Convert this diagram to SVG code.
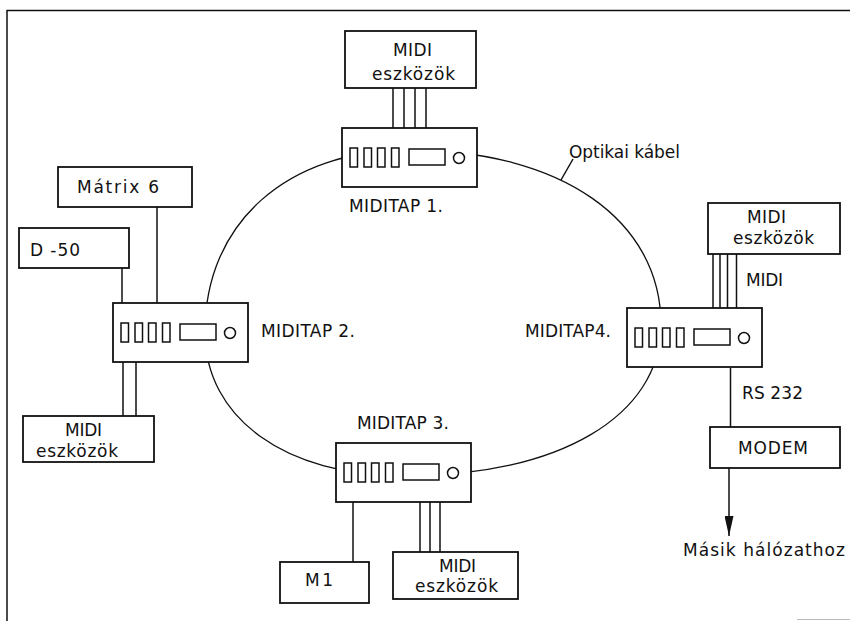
<svg xmlns="http://www.w3.org/2000/svg" xmlns:xlink="http://www.w3.org/1999/xlink" width="850" height="621" viewBox="0 0 850 621">
<style>
  .box { fill: #fff; stroke: #111; stroke-width: 1.8; }
  .ln { fill: none; stroke: #111; stroke-width: 1.5; }
  .ring { fill: none; stroke: #111; stroke-width: 1.3; }
  .part { fill: #fff; stroke: #111; stroke-width: 1.5; }
  text { font-family: "DejaVu Sans", "Liberation Sans", Arial, sans-serif; font-size: 17px; fill: #111; }
</style>
<defs>
  <g id="tap">
    <rect class="box" x="0" y="0" width="135" height="59"/>
    <rect class="part" x="8" y="20" width="7.5" height="19"/>
    <rect class="part" x="22" y="20" width="7.5" height="19"/>
    <rect class="part" x="35.5" y="20" width="7.5" height="19"/>
    <rect class="part" x="49.5" y="20" width="7.5" height="19"/>
    <rect class="part" x="67" y="21" width="36" height="16"/>
    <circle class="part" cx="117" cy="30" r="5.5"/>
  </g>
  <marker id="arr" viewBox="0 0 20 9" refX="20" refY="4.5" markerWidth="20" markerHeight="9" markerUnits="userSpaceOnUse" orient="auto">
    <path d="M0,0 L20,4.5 L0,9 Z" fill="#111"/>
  </marker>
</defs>
<rect x="0" y="0" width="850" height="621" fill="#fff"/>
<g id="frame">
  <path class="ln" d="M7,621 V10.5 H850"/>
  <line x1="797" y1="619.5" x2="850" y2="619.5" stroke="#bbb" stroke-width="1"/>
</g>
<g id="connectors">
  <path class="ring" d="M409,150 C287,150 205,223 205,332 C205,418 285,476 405,476 C559,476 661,416 661,325 C661,220 561,150 409,150 Z"/>
  <line class="ln" x1="561" y1="180" x2="573" y2="159"/>
  <path class="ln" d="M393,88 V128 M404,88 V128 M415,88 V128 M426,88 V128"/>
  <line class="ln" x1="157" y1="207" x2="157" y2="303"/>
  <line class="ln" x1="122" y1="268" x2="122" y2="303"/>
  <path class="ln" d="M123,362 V416 M136,362 V416"/>
  <line class="ln" x1="353" y1="502" x2="353" y2="562"/>
  <path class="ln" d="M420,502 V552 M430,502 V552 M440,502 V552"/>
  <path class="ln" d="M713,254 V308 M720,254 V308 M727.5,254 V308 M736.5,254 V308"/>
  <line class="ln" x1="730.5" y1="368" x2="730.5" y2="427"/>
  <line class="ln" x1="729" y1="468" x2="729" y2="536" marker-end="url(#arr)"/>
</g>
<g id="miditap1">
  <use xlink:href="#tap" x="342" y="128"/>
  <text x="349" y="212" textLength="94" lengthAdjust="spacing">MIDITAP 1.</text>
</g>
<g id="miditap2">
  <use xlink:href="#tap" x="113" y="303"/>
  <text x="261" y="337" textLength="94" lengthAdjust="spacing">MIDITAP 2.</text>
</g>
<g id="miditap3">
  <use xlink:href="#tap" x="336" y="443"/>
  <text x="357" y="429" textLength="92" lengthAdjust="spacing">MIDITAP 3.</text>
</g>
<g id="miditap4">
  <use xlink:href="#tap" x="627" y="308"/>
  <text x="525" y="337" textLength="86" lengthAdjust="spacing">MIDITAP4.</text>
</g>
<g id="midi-top">
  <rect class="box" x="345" y="31" width="131" height="57"/>
  <text x="393" y="56" textLength="39" lengthAdjust="spacing">MIDI</text>
  <text x="372" y="80" textLength="83" lengthAdjust="spacing">eszközök</text>
</g>
<g id="matrix6">
  <rect class="box" x="58" y="167" width="134" height="40"/>
  <text x="77" y="193" textLength="82" lengthAdjust="spacing">Mátrix 6</text>
</g>
<g id="d50">
  <rect class="box" x="19" y="228" width="110" height="40"/>
  <text x="30" y="256" textLength="50" lengthAdjust="spacing">D -50</text>
</g>
<g id="midi-left">
  <rect class="box" x="23" y="416" width="131" height="46"/>
  <text x="65" y="436" textLength="37" lengthAdjust="spacing">MIDI</text>
  <text x="36" y="457" textLength="82" lengthAdjust="spacing">eszközök</text>
</g>
<g id="m1">
  <rect class="box" x="280" y="562" width="89" height="41"/>
  <text x="305" y="586" textLength="28" lengthAdjust="spacing">M1</text>
</g>
<g id="midi-bottom">
  <rect class="box" x="393" y="552" width="125" height="47"/>
  <text x="439" y="572" textLength="37" lengthAdjust="spacing">MIDI</text>
  <text x="415" y="592" textLength="83" lengthAdjust="spacing">eszközök</text>
</g>
<g id="midi-right">
  <rect class="box" x="708" y="203" width="132" height="51"/>
  <text x="747" y="223" textLength="39" lengthAdjust="spacing">MIDI</text>
  <text x="733" y="244" textLength="81" lengthAdjust="spacing">eszközök</text>
</g>
<g id="modem">
  <rect class="box" x="710" y="427" width="130" height="41"/>
  <text x="738" y="454" textLength="70" lengthAdjust="spacing">MODEM</text>
</g>
<g id="labels">
  <text x="569" y="158" textLength="111" lengthAdjust="spacing">Optikai kábel</text>
  <text x="746" y="286" textLength="37" lengthAdjust="spacing">MIDI</text>
  <text x="742" y="399" textLength="61" lengthAdjust="spacing">RS 232</text>
  <text x="683" y="556" textLength="162" lengthAdjust="spacing">Másik hálózathoz</text>
</g>
</svg>
